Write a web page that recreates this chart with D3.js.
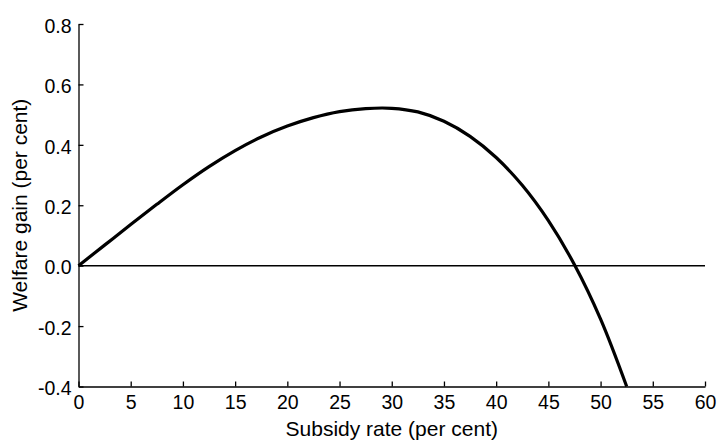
<!DOCTYPE html>
<html>
<head>
<meta charset="utf-8">
<script src="https://cdn.jsdelivr.net/npm/d3@7"></script>
<style>
  body { margin: 0; background: #fff; }
  text { font-family: "Liberation Sans", Arial, sans-serif; fill: #000; }
</style>
</head>
<body>
<svg id="chart" width="718" height="440"></svg>
<script>
// subsidy rate (per cent) and welfare gain (per cent)
var rates = [0, 2.5, 5, 7.5, 10, 12.5, 15, 17.5, 20, 22.5, 25, 27.5, 30, 32.5, 35, 37.5, 40, 42.5, 45, 47.5, 50, 52.5];
var gains = [0, 0.068, 0.136, 0.203, 0.268, 0.328, 0.381, 0.426, 0.462, 0.490, 0.510, 0.520, 0.521, 0.509, 0.478, 0.428, 0.358, 0.266, 0.149, 0.003, -0.177, -0.4];
var xTicks = d3.range(0, 61, 5);
var yTicks = [-0.4, -0.2, 0, 0.2, 0.4, 0.6, 0.8];

var svg = d3.select("#chart");
var mLeft = 78.5, mRight = 705, mTop = 24, mBottom = 386.5;

var x = d3.scaleLinear().domain([0, 60]).range([mLeft, mRight]);
var y = d3.scaleLinear().domain([-0.4, 0.8]).range([mBottom, mTop]);

// axes, ticks point inward
var xAxis = svg.append("g")
  .attr("transform", "translate(0," + mBottom + ")")
  .call(d3.axisBottom(x).tickValues(xTicks).tickSize(-5).tickPadding(9).tickSizeOuter(0));
var yAxis = svg.append("g")
  .attr("transform", "translate(" + mLeft + ",0)")
  .call(d3.axisLeft(y).tickValues(yTicks).tickSize(-5).tickPadding(7).tickSizeOuter(0)
    .tickFormat(d3.format(".1f")));

[xAxis, yAxis].forEach(function(g){
  g.selectAll("path, line").attr("stroke", "#000").attr("stroke-width", 1.3);
  g.selectAll("text").style("font-size", "19.5px").attr("fill", "#000");
});
xAxis.selectAll("text").attr("dy", "0.71em");
yAxis.selectAll("text").attr("dy", "0.42em");
yAxis.selectAll("text").text(function(d){ return d3.format(".1f")(d).replace("−", "-"); });

// zero line
svg.append("line")
  .attr("x1", x(0)).attr("x2", x(60))
  .attr("y1", y(0)).attr("y2", y(0))
  .attr("stroke", "#000").attr("stroke-width", 1.5);

// welfare curve
var line = d3.line()
  .x(function(d, i){ return x(rates[i]); })
  .y(function(d){ return y(d); })
  .curve(d3.curveCatmullRom);

svg.append("path")
  .datum(gains)
  .attr("d", line)
  .attr("fill", "none")
  .attr("stroke", "#000")
  .attr("stroke-width", 3.2);

// axis titles
svg.append("text")
  .attr("x", (mLeft + mRight) / 2).attr("y", 436)
  .attr("text-anchor", "middle")
  .style("font-size", "21px")
  .text("Subsidy rate (per cent)");

svg.append("text")
  .attr("transform", "translate(27," + (mTop + mBottom) / 2 + ") rotate(-90)")
  .attr("text-anchor", "middle")
  .style("font-size", "21px")
  .text("Welfare gain (per cent)");
</script>
</body>
</html>
